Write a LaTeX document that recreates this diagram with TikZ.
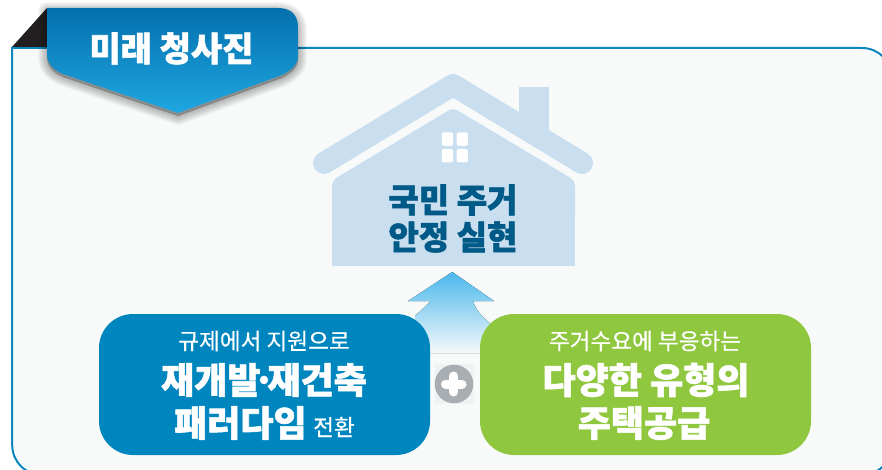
\documentclass[tikz,border=0pt]{standalone}
\usepackage{fontspec}
\newfontfamily\krreg[FakeBold=0.4]{Noto Sans CJK KR}
\newfontfamily\krblk[FakeBold=1.6]{Noto Sans CJK KR Black}
\definecolor{panelblue}{HTML}{0C87BE}
\definecolor{panelbg}{HTML}{F8FAFA}
\definecolor{housec}{HTML}{C9DEEE}
\definecolor{housetext}{HTML}{005A87}
\definecolor{boxblue}{HTML}{0086BF}
\definecolor{boxgreen}{HTML}{8FC73E}
\definecolor{plusc}{HTML}{A9AEB3}
\definecolor{foldc}{HTML}{231F20}
\definecolor{bantop}{HTML}{0470AE}
\definecolor{banmid}{HTML}{1A99D6}
\definecolor{banbot}{HTML}{1FA7E0}
\definecolor{arrtop}{HTML}{4AB8EC}
\definecolor{arrmid}{HTML}{C8E2F5}
\definecolor{arrbot}{HTML}{F5F9FB}
\definecolor{plusbg}{HTML}{F0F3F4}
\tikzset{
  small/.style={text=white,font=\krreg\fontsize{22.6}{26}\selectfont,anchor=center,inner sep=0pt},
  big/.style={text=white,font=\krblk\fontsize{36}{42}\selectfont,anchor=center,inner sep=0pt},
  housetxt/.style={text=housetext,font=\krblk\fontsize{33}{38}\selectfont,anchor=center,inner sep=0pt},
  banpath/.pic={\path[pic actions] (47,8) -- (278,8) .. controls (291,8) and (298,15) .. (298,27) -- (298,56)
  .. controls (298,64) and (292,70) .. (282,75) -- (178,113) -- (63,74)
  .. controls (53,70) and (47,63) .. (47,54) -- cycle;},
}
\begin{document}
\begin{tikzpicture}[x=1pt,y=-1pt]
\useasboundingbox (0,0) rectangle (882,470);
% panel
\draw[panelblue,line width=2pt,fill=panelbg] (12.2,445) -- (12.2,48) -- (862,48)
  .. controls (878.6,48) and (892,61.4) .. (892,78) -- (892,445)
  .. controls (892,461.6) and (878.6,475) .. (862,475) -- (42,475)
  .. controls (25.4,475) and (12.2,461.6) .. (12.2,445) -- cycle;
% fold
\fill[foldc] (12,47) -- (47,8) -- (47,47) -- cycle;
% banner shadow
\foreach \w in {18,16,14,12,10,8,6,4,2}
  \pic[fill=black,draw=black,fill opacity=.03,draw opacity=.03,line width=\w pt,line join=round] at (0,3) {banpath};
% banner
\pic[top color=bantop,middle color=banmid,bottom color=banbot] {banpath};
\node[text=white,font=\krblk\fontsize{34}{40}\selectfont,inner sep=0pt] (title) at (171.5,48.5) {미래 청사진};
% house roof
\fill[housec] (519,87) rectangle (549.3,130);
\draw[housec,line width=22pt,line cap=round,line join=round] (324,163) -- (453,85) -- (582,163);
% house body
\fill[housec,rounded corners=5pt] (332,220) -- (332,180.5) -- (453,107.7) -- (575,180.5) -- (575,220) -- cycle;
\fill[housec] (332,200) rectangle (575,266);
% window
\foreach \xx/\yy in {441.8/132.3,456.7/132.3,441.8/149,456.7/149}
  \fill[white,rounded corners=1.5pt] (\xx,\yy) rectangle ++(11.2,13.5);
\node[housetxt] (h1) at (453,200) {국민 주거};
\node[housetxt] (h2) at (453,237) {안정 실현};
% arrow
\fill[top color=arrtop,middle color=arrmid,bottom color=arrbot]
  (452.3,272) -- (494,301) -- (473,301) .. controls (476,311) and (484,319) .. (491,324) -- (491,353) -- (415,353) -- (415,316) -- (431,301) -- (408,301) -- cycle;
% boxes
\fill[boxblue,rounded corners=34pt] (99,314) rectangle (430,455);
\fill[boxgreen,rounded corners=34pt] (480,314) rectangle (811,455);
\node[small] (b1) at (264,341) {규제에서 지원으로};
\node[big] (b2) at (264,380) {재개발\kern-7.5pt·\kern-7.5pt재건축};
\node[big,anchor=west] (b3) at (174,423) {패러다임};
\node[small,anchor=west] (b4) at (313,427) {전환};
\node[small] (g1) at (645,341) {주거수요에 부응하는};
\node[big] (g2) at (646,380) {다양한 유형의};
\node[big] (g3) at (644,423) {주택공급};
% plus
\fill[plusbg] (435,364) rectangle (474,403.5);
\fill[plusc] (454,384) circle (19.3);
\draw[white,line width=9pt,line cap=round] (445.5,384) -- (462,384) (453.7,376) -- (453.7,392);
\end{tikzpicture}
\end{document}
